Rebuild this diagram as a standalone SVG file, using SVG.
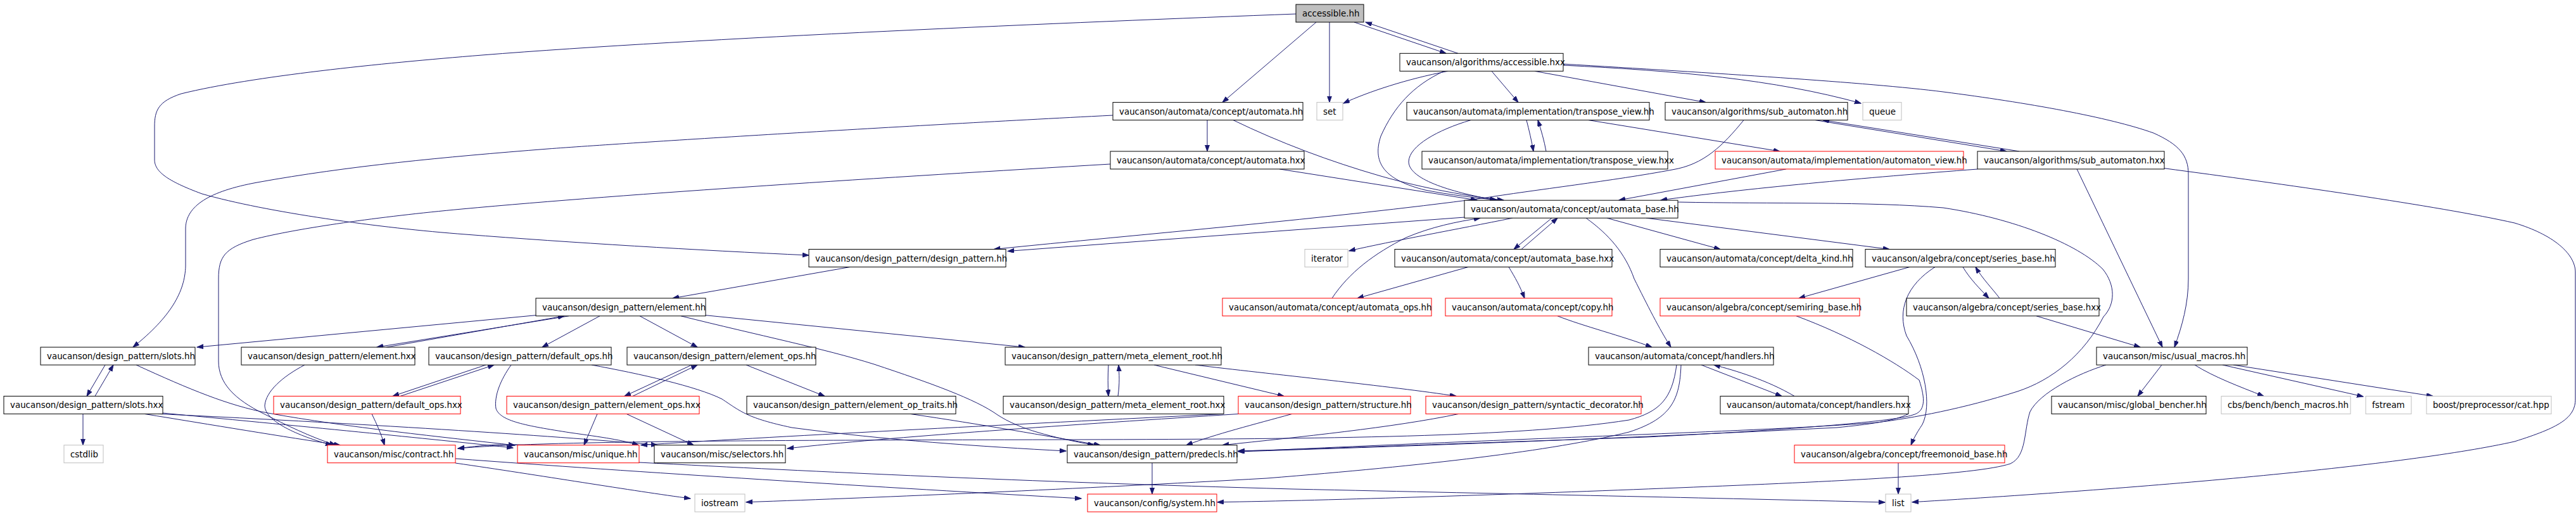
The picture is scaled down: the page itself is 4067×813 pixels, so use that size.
<svg xmlns="http://www.w3.org/2000/svg" width="4067" height="813" viewBox="0 0 4067 813">
<style>
.node rect{fill:#ffffff;stroke:#000000;stroke-width:1}
.node.red rect{stroke:#ff0000}
.node.ext rect{stroke:#bfbfbf}
.node.root rect{fill:#bfbfbf}
.node text{font-family:"DejaVu Sans","Liberation Sans",sans-serif;font-size:13.4px;fill:#000000}
#edges path{fill:none;stroke:#191970;stroke-width:1;marker-end:url(#arr)}
</style>
<defs>
<marker id="arr" markerUnits="userSpaceOnUse" markerWidth="11" markerHeight="8" refX="10" refY="3.5" orient="auto"><path d="M0,0 L10,3.5 L0,7 Z" fill="#191970" stroke="#191970"/></marker>
</defs>
<rect x="0" y="0" width="4067" height="813" fill="#ffffff"/>
<g id="edges">
<path d="M2138,35 L2283,84.3"/>
<path d="M2302,84.3 L2156,35"/>
<path d="M2099,35 L2099,161.6"/>
<path d="M2078,35 L1930,161.6"/>
<path d="M2046,22 C1700,35 1100,60 761,87 C600,100 400,120 286,148 C250,160 244,174 244,200 L244,252 C244,270 262,285 319,306 C420,335 600,360 735,370 C900,383 1100,395 1277,403"/>
<path d="M1757,182 C1400,200 1000,225 865,235 C700,248 550,262 406,288 C330,302 294,325 293,360 L293,420 C292,460 270,500 210,548"/>
<path d="M1753,259 C1400,280 1000,305 729,330 C600,342 470,360 400,378 C355,392 345,405 345,440 L345,570 C345,605 370,630 416,653 C450,670 490,690 530,702.7"/>
<path d="M2286,112.3 C2220,125 2160,145 2121,163"/>
<path d="M2280,112.3 C2230,135 2200,170 2180,215 C2165,260 2190,285 2250,300 C2290,308 2330,312 2364,316"/>
<path d="M2355,112.3 L2397,161.6"/>
<path d="M2423,112.3 L2693,161.6"/>
<path d="M2468,103 C2650,112 2800,125 2938,163"/>
<path d="M2468,101 C2700,115 2950,130 3068,145 C3200,162 3330,185 3400,210 C3440,228 3455,245 3455,275 L3455,440 C3455,480 3445,515 3433,548"/>
<path d="M1906,189.6 L1906,238.9"/>
<path d="M1947,189.6 C2020,225 2100,255 2180,278 C2250,298 2320,310 2374,316"/>
<path d="M2020,266.9 L2332,316"/>
<path d="M2410,189.6 C2414,205 2418,222 2421,238.9"/>
<path d="M2441,238.9 C2438,222 2433,205 2428,189.6"/>
<path d="M2322,189.6 C2270,205 2225,230 2224,255 C2224,285 2300,305 2362,316"/>
<path d="M2508,189.6 L2810,238.9"/>
<path d="M2820,266.9 L2556,316"/>
<path d="M2753,189.6 C2720,230 2690,260 2640,268 C2550,285 2420,300 2340,313 C2100,345 1800,370 1569,393.5"/>
<path d="M2866,189.6 L3168,238.9"/>
<path d="M3188,238.9 L2878,189.6"/>
<path d="M3122,267 C2950,280 2750,298 2622,316"/>
<path d="M3279,266.9 L3414,548"/>
<path d="M3417,265.7 C3600,290 3850,325 3970,352 C4030,370 4066,400 4066,430 L4066,630 C4066,660 4040,675 3970,697 C3800,735 3400,770 3019,792.7"/>
<path d="M2312,343 L1591,396.5"/>
<path d="M2388,344.2 C2300,362 2200,380 2130,396"/>
<path d="M2450,344.2 L2390,393.5"/>
<path d="M2402,393.5 L2459,344.2"/>
<path d="M2103,470.8 C2130,430 2170,400 2220,375 C2260,358 2300,350 2337,344.2"/>
<path d="M2318,421.5 L2143,470.8"/>
<path d="M2382,421.5 C2392,438 2400,452 2407,470.8"/>
<path d="M2537,344.2 L2716,393.5"/>
<path d="M2599,344.2 L2983,393.5"/>
<path d="M2504,344.2 C2540,370 2566,400 2580,440 C2600,480 2620,520 2638,548"/>
<path d="M2649,319 C2800,322 2950,318 3068,328 C3180,345 3280,385 3320,425 C3340,450 3340,480 3321,500 C3290,560 3240,600 3185,618 C3100,645 3020,660 2963,667 C2800,680 2500,688 2000,711 L1955,712"/>
<path d="M1342,421.5 L1062,470.8"/>
<path d="M846,497.7 L311,548.1"/>
<path d="M898,498.8 L595,548.1"/>
<path d="M610,548.1 L891,498.8"/>
<path d="M947,498.8 L856,548.1"/>
<path d="M1010,498.8 L1101,548.1"/>
<path d="M1075,498.8 C1200,530 1300,550 1380,575 C1470,605 1540,630 1575,655 C1610,678 1660,690 1727,702.7"/>
<path d="M1114,497.7 L1618,548.1"/>
<path d="M767,576.1 L620,625.4"/>
<path d="M632,625.4 L780,576.1"/>
<path d="M934,576.1 C1010,590 1100,610 1140,630 C1170,650 1180,660 1250,675 C1400,695 1550,705 1683,712"/>
<path d="M807,576.1 C790,600 780,625 783,645 C790,665 830,672 900,683 C950,690 985,695 1008,702.7"/>
<path d="M587,653.4 C595,670 602,685 607,702.7"/>
<path d="M481,576.1 C445,595 420,618 418,640 C418,665 470,688 524,702.7"/>
<path d="M228,653.4 C330,670 450,690 537,702.7"/>
<path d="M257,652 C500,675 700,695 810,707"/>
<path d="M250,653.4 C600,670 900,690 1038,702.7"/>
<path d="M215,576.1 C300,615 360,640 423,652 C550,675 700,690 813,703"/>
<path d="M166,576.1 L137,625.4"/>
<path d="M150,625.4 L179,576.1"/>
<path d="M131,653.4 L131,702.7"/>
<path d="M1092,576.1 L986,625.4"/>
<path d="M999,625.4 L1101,576.1"/>
<path d="M1178,576.1 L1302,625.4"/>
<path d="M943,653.4 L922,702.7"/>
<path d="M989,653.4 L1095,702.7"/>
<path d="M1437,653.4 C1550,670 1650,688 1737,702.7"/>
<path d="M830,702.7 C790,700 760,703 723,708"/>
<path d="M1009,730 C1300,745 1600,760 2040,772 C2400,780 2700,786 2976,793"/>
<path d="M719,731 C850,750 1000,775 1090,787"/>
<path d="M719,724 C1000,745 1400,770 1707,787"/>
<path d="M2647,576.1 C2640,630 2620,650 2572,663 C2400,690 2100,693 1700,694 C1200,695 850,696 723,708"/>
<path d="M2654,576.1 C2652,630 2640,660 2572,682 C2450,712 2250,735 2000,755 C1700,772 1400,785 1178,792.7"/>
<path d="M2686,576.1 L2813,625.4"/>
<path d="M2833,625.4 C2790,600 2740,585 2706,576.1"/>
<path d="M2459,498.8 C2500,515 2560,530 2608,548.1"/>
<path d="M3013,653.4 C2990,665 2950,670 2900,675 C2500,695 2200,705 1955,713"/>
<path d="M2836,498.8 C2920,530 2990,570 3030,600 C3040,630 3040,650 3020,655 C2990,666 2800,680 2600,690 C2300,700 2100,708 1955,712"/>
<path d="M3055,421.5 C3010,450 2995,490 3010,530 C3040,580 3050,640 3035,670 C3025,685 3020,695 3017,702.7"/>
<path d="M3015,421.5 L2840,470.8"/>
<path d="M3099,421.5 C3110,440 3125,455 3140,470.8"/>
<path d="M3157,470.8 C3145,455 3130,440 3119,421.5"/>
<path d="M3215,498.8 L3379,548.1"/>
<path d="M2997,730.7 L2997,780"/>
<path d="M3413,576.1 L3375,625.4"/>
<path d="M3465,576.1 C3495,595 3535,610 3574,625.4"/>
<path d="M3509,576.1 L3731,626"/>
<path d="M3526,576.1 L3841,625.4"/>
<path d="M3325,576.1 C3280,590 3220,620 3205,650 C3195,680 3200,720 3174,732 C3120,750 2900,760 2650,770 C2400,780 2100,790 1922,792.7"/>
<path d="M1819,730.7 L1819,780"/>
<path d="M1750,576.1 C1749,592 1749,608 1750,625.4"/>
<path d="M1765,625.4 C1768,605 1767,590 1766,576.1"/>
<path d="M1822,576.1 L2027,625.4"/>
<path d="M1887,576.1 C2000,590 2200,610 2299,625.4"/>
<path d="M2040,653.4 C1980,670 1920,685 1873,702.7"/>
<path d="M2303,653.4 C2200,675 2050,690 1930,702.7"/>
<path d="M1956,653.4 C1700,670 1400,690 1243,708"/>
<path d="M1932,653.4 C1600,670 1200,690 1012,702.7"/>
</g>
<g id="n_accessible_hh" class="node root"><rect x="2046" y="7" width="107" height="28"/><text x="2056" y="26">accessible.hh</text></g>
<g id="n_alg_accessible_hxx" class="node"><rect x="2210" y="84.3" width="258" height="28"/><text x="2220" y="103.3">vaucanson/algorithms/accessible.hxx</text></g>
<g id="n_automata_hh" class="node"><rect x="1757" y="161.6" width="300" height="28"/><text x="1767" y="180.6">vaucanson/automata/concept/automata.hh</text></g>
<g id="n_set" class="node ext"><rect x="2079" y="161.6" width="41" height="28"/><text x="2089" y="180.6">set</text></g>
<g id="n_transpose_view_hh" class="node"><rect x="2221" y="161.6" width="383" height="28"/><text x="2231" y="180.6">vaucanson/automata/implementation/transpose_view.hh</text></g>
<g id="n_sub_automaton_hh" class="node"><rect x="2629" y="161.6" width="288" height="28"/><text x="2639" y="180.6">vaucanson/algorithms/sub_automaton.hh</text></g>
<g id="n_queue" class="node ext"><rect x="2941" y="161.6" width="61" height="28"/><text x="2951" y="180.6">queue</text></g>
<g id="n_automata_hxx" class="node"><rect x="1753" y="238.9" width="306" height="28"/><text x="1763" y="257.9">vaucanson/automata/concept/automata.hxx</text></g>
<g id="n_transpose_view_hxx" class="node"><rect x="2245" y="238.9" width="388" height="28"/><text x="2255" y="257.9">vaucanson/automata/implementation/transpose_view.hxx</text></g>
<g id="n_automaton_view_hh" class="node red"><rect x="2708" y="238.9" width="392" height="28"/><text x="2718" y="257.9">vaucanson/automata/implementation/automaton_view.hh</text></g>
<g id="n_sub_automaton_hxx" class="node"><rect x="3122" y="238.9" width="295" height="28"/><text x="3132" y="257.9">vaucanson/algorithms/sub_automaton.hxx</text></g>
<g id="n_automata_base_hh" class="node"><rect x="2312" y="316.2" width="337" height="28"/><text x="2322" y="335.2">vaucanson/automata/concept/automata_base.hh</text></g>
<g id="n_design_pattern_hh" class="node"><rect x="1277" y="393.5" width="311" height="28"/><text x="1287" y="412.5">vaucanson/design_pattern/design_pattern.hh</text></g>
<g id="n_iterator" class="node ext"><rect x="2060" y="393.5" width="68" height="28"/><text x="2070" y="412.5">iterator</text></g>
<g id="n_automata_base_hxx" class="node"><rect x="2202" y="393.5" width="343" height="28"/><text x="2212" y="412.5">vaucanson/automata/concept/automata_base.hxx</text></g>
<g id="n_delta_kind_hh" class="node"><rect x="2621" y="393.5" width="304" height="28"/><text x="2631" y="412.5">vaucanson/automata/concept/delta_kind.hh</text></g>
<g id="n_series_base_hh" class="node"><rect x="2945" y="393.5" width="300" height="28"/><text x="2955" y="412.5">vaucanson/algebra/concept/series_base.hh</text></g>
<g id="n_element_hh" class="node"><rect x="846" y="470.8" width="268" height="28"/><text x="856" y="489.8">vaucanson/design_pattern/element.hh</text></g>
<g id="n_automata_ops_hh" class="node red"><rect x="1930" y="470.8" width="330" height="28"/><text x="1940" y="489.8">vaucanson/automata/concept/automata_ops.hh</text></g>
<g id="n_copy_hh" class="node red"><rect x="2282" y="470.8" width="263" height="28"/><text x="2292" y="489.8">vaucanson/automata/concept/copy.hh</text></g>
<g id="n_semiring_base_hh" class="node red"><rect x="2621" y="470.8" width="315" height="28"/><text x="2631" y="489.8">vaucanson/algebra/concept/semiring_base.hh</text></g>
<g id="n_series_base_hxx" class="node"><rect x="3010" y="470.8" width="304" height="28"/><text x="3020" y="489.8">vaucanson/algebra/concept/series_base.hxx</text></g>
<g id="n_slots_hh" class="node"><rect x="64" y="548.1" width="244" height="28"/><text x="74" y="567.1">vaucanson/design_pattern/slots.hh</text></g>
<g id="n_element_hxx" class="node"><rect x="381" y="548.1" width="274" height="28"/><text x="391" y="567.1">vaucanson/design_pattern/element.hxx</text></g>
<g id="n_default_ops_hh" class="node"><rect x="677" y="548.1" width="288" height="28"/><text x="687" y="567.1">vaucanson/design_pattern/default_ops.hh</text></g>
<g id="n_element_ops_hh" class="node"><rect x="990" y="548.1" width="298" height="28"/><text x="1000" y="567.1">vaucanson/design_pattern/element_ops.hh</text></g>
<g id="n_meta_element_root_hh" class="node"><rect x="1587" y="548.1" width="341" height="28"/><text x="1597" y="567.1">vaucanson/design_pattern/meta_element_root.hh</text></g>
<g id="n_handlers_hh" class="node"><rect x="2508" y="548.1" width="292" height="28"/><text x="2518" y="567.1">vaucanson/automata/concept/handlers.hh</text></g>
<g id="n_usual_macros_hh" class="node"><rect x="3310" y="548.1" width="238" height="28"/><text x="3320" y="567.1">vaucanson/misc/usual_macros.hh</text></g>
<g id="n_slots_hxx" class="node"><rect x="6" y="625.4" width="251" height="28"/><text x="16" y="644.4">vaucanson/design_pattern/slots.hxx</text></g>
<g id="n_default_ops_hxx" class="node red"><rect x="432" y="625.4" width="295" height="28"/><text x="442" y="644.4">vaucanson/design_pattern/default_ops.hxx</text></g>
<g id="n_element_ops_hxx" class="node red"><rect x="800" y="625.4" width="304" height="28"/><text x="810" y="644.4">vaucanson/design_pattern/element_ops.hxx</text></g>
<g id="n_element_op_traits_hh" class="node"><rect x="1179" y="625.4" width="330" height="28"/><text x="1189" y="644.4">vaucanson/design_pattern/element_op_traits.hh</text></g>
<g id="n_meta_element_root_hxx" class="node"><rect x="1584" y="625.4" width="348" height="28"/><text x="1594" y="644.4">vaucanson/design_pattern/meta_element_root.hxx</text></g>
<g id="n_structure_hh" class="node red"><rect x="1955" y="625.4" width="272" height="28"/><text x="1965" y="644.4">vaucanson/design_pattern/structure.hh</text></g>
<g id="n_syntactic_decorator_hh" class="node red"><rect x="2251" y="625.4" width="340" height="28"/><text x="2261" y="644.4">vaucanson/design_pattern/syntactic_decorator.hh</text></g>
<g id="n_handlers_hxx" class="node"><rect x="2716" y="625.4" width="297" height="28"/><text x="2726" y="644.4">vaucanson/automata/concept/handlers.hxx</text></g>
<g id="n_global_bencher_hh" class="node"><rect x="3239" y="625.4" width="244" height="28"/><text x="3249" y="644.4">vaucanson/misc/global_bencher.hh</text></g>
<g id="n_bench_macros_hh" class="node ext"><rect x="3507" y="625.4" width="204" height="28"/><text x="3517" y="644.4">cbs/bench/bench_macros.hh</text></g>
<g id="n_fstream" class="node ext"><rect x="3735" y="625.4" width="72" height="28"/><text x="3745" y="644.4">fstream</text></g>
<g id="n_cat_hpp" class="node ext"><rect x="3831" y="625.4" width="197" height="28"/><text x="3841" y="644.4">boost/preprocessor/cat.hpp</text></g>
<g id="n_cstdlib" class="node ext"><rect x="101" y="702.7" width="62" height="28"/><text x="111" y="721.7">cstdlib</text></g>
<g id="n_contract_hh" class="node red"><rect x="517" y="702.7" width="202" height="28"/><text x="527" y="721.7">vaucanson/misc/contract.hh</text></g>
<g id="n_unique_hh" class="node red"><rect x="817" y="702.7" width="192" height="28"/><text x="827" y="721.7">vaucanson/misc/unique.hh</text></g>
<g id="n_selectors_hh" class="node"><rect x="1033" y="702.7" width="207" height="28"/><text x="1043" y="721.7">vaucanson/misc/selectors.hh</text></g>
<g id="n_predecls_hh" class="node"><rect x="1685" y="702.7" width="268" height="28"/><text x="1695" y="721.7">vaucanson/design_pattern/predecls.hh</text></g>
<g id="n_freemonoid_base_hh" class="node red"><rect x="2833" y="702.7" width="332" height="28"/><text x="2843" y="721.7">vaucanson/algebra/concept/freemonoid_base.hh</text></g>
<g id="n_iostream" class="node ext"><rect x="1097" y="780" width="79" height="28"/><text x="1107" y="799">iostream</text></g>
<g id="n_system_hh" class="node red"><rect x="1717" y="780" width="204" height="28"/><text x="1727" y="799">vaucanson/config/system.hh</text></g>
<g id="n_list" class="node ext"><rect x="2977" y="780" width="40" height="28"/><text x="2987" y="799">list</text></g>
</svg>
